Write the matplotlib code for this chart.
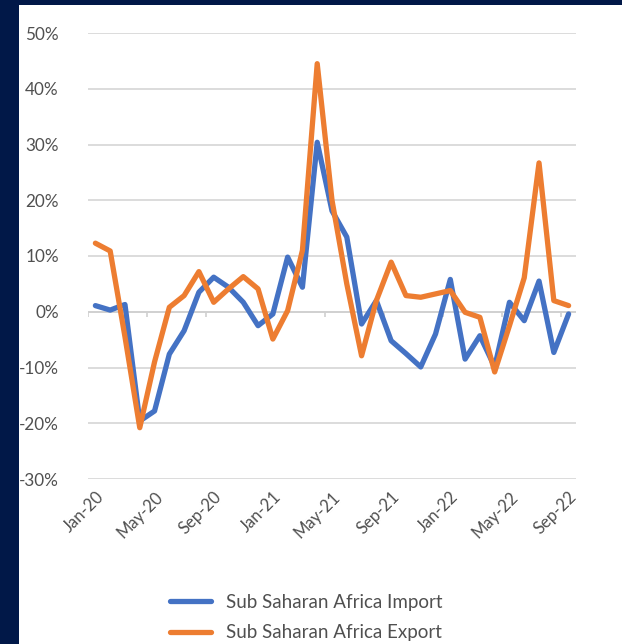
import matplotlib
matplotlib.use("Agg")
import matplotlib.pyplot as plt
from matplotlib.patches import Rectangle
from matplotlib.ticker import FuncFormatter, MultipleLocator

plt.rcParams['font.family'] = ['Lato', 'DejaVu Sans']

# Monthly categories Jan-20 .. Sep-22
months = ['Jan-20', 'Feb-20', 'Mar-20', 'Apr-20', 'May-20', 'Jun-20', 'Jul-20', 'Aug-20',
          'Sep-20', 'Oct-20', 'Nov-20', 'Dec-20', 'Jan-21', 'Feb-21', 'Mar-21', 'Apr-21',
          'May-21', 'Jun-21', 'Jul-21', 'Aug-21', 'Sep-21', 'Oct-21', 'Nov-21', 'Dec-21',
          'Jan-22', 'Feb-22', 'Mar-22', 'Apr-22', 'May-22', 'Jun-22', 'Jul-22', 'Aug-22',
          'Sep-22']

# Year-on-year growth, percent
imports = [1.1, 0.3, 1.3, -19.6, -17.8, -7.6, -3.4, 3.5, 6.2, 4.4, 1.7, -2.5, -0.4,
           9.8, 4.4, 30.4, 18.1, 13.4, -2.2, 2.0, -5.2, -7.5, -9.9, -4.0, 5.8, -8.5,
           -4.3, -9.9, 1.7, -1.6, 5.5, -7.3, -0.4]
exports = [12.3, 10.9, -4.5, -20.8, -9.0, 0.8, 2.9, 7.2, 1.7, 4.1, 6.3, 4.1, -4.9,
           0.2, 11.0, 44.5, 20.0, 5.0, -7.9, 2.0, 8.9, 2.9, 2.6, 3.2, 3.8, -0.1,
           -1.0, -10.8, -2.5, 6.1, 26.7, 2.0, 1.1]

series_names = ['Sub Saharan Africa Import', 'Sub Saharan Africa Export']
colors = ['#4472C4', '#ED7D31']

y_min, y_max, y_step = -30, 50, 10
label_every = 4

W, H = 622, 644
fig = plt.figure(figsize=(W / 100, H / 100), dpi=100)
fig.patch.set_facecolor('#011848')

# white chart panel behind everything
fig.patches.append(Rectangle((19 / W, 0), 1 - 19 / W, 1 - 5 / H,
                             transform=fig.transFigure, facecolor='white',
                             edgecolor='none', zorder=-10))

ax = fig.add_axes([88 / W, (H - 479) / H, 488 / W, 446 / H])
ax.set_facecolor('none')

x = list(range(len(months)))
for vals, c, name in zip([imports, exports], colors, series_names):
    ax.plot(x, vals, color=c, lw=3.8, solid_joinstyle='round',
            solid_capstyle='round', label=name, zorder=3)

ax.set_xlim(-0.5, len(months) - 0.5)
ax.set_ylim(y_min, y_max)
ax.yaxis.set_major_locator(MultipleLocator(y_step))
ax.yaxis.set_major_formatter(FuncFormatter(lambda v, p: f'{v:.0f}%'))
ax.grid(axis='y', color='#D9D9D9', lw=1.3, zorder=1)
ax.set_axisbelow(True)

# category axis at zero with tick marks on category boundaries
ax.axhline(0, color='#D0D0D0', lw=1.3, zorder=2)
bounds = [i - 0.5 for i in range(0, len(months) + 1, label_every)]
ax.vlines(bounds, -0.9, 0, color='#D0D0D0', lw=1.2, zorder=2)

for s in ax.spines.values():
    s.set_visible(False)

ax.tick_params(axis='y', length=0, pad=21, labelsize=12.3, labelcolor='#505050')
ax.set_xticks(x[::label_every])
ax.set_xticklabels(months[::label_every], rotation=45, ha='right',
                   rotation_mode='anchor')
ax.tick_params(axis='x', length=0, pad=7, labelsize=12, labelcolor='#505050')

fig.legend(loc='upper center', bbox_to_anchor=(0.492, (H - 577) / H), ncol=1,
           frameon=False, fontsize=13.5, handlelength=2.2, handletextpad=0.8,
           labelspacing=0.72, labelcolor='#505050')

fig.savefig('out.png', dpi=100, facecolor=fig.get_facecolor())
